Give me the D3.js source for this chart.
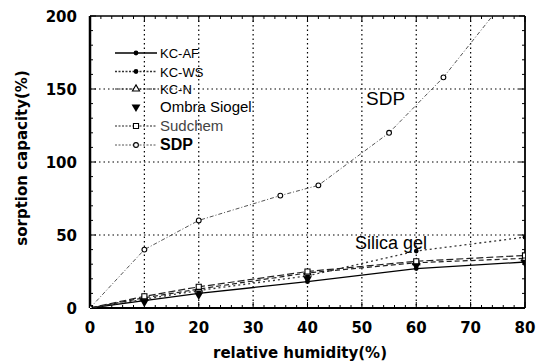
<!DOCTYPE html>
<html>
<head>
<meta charset="utf-8">
<script src="https://cdn.jsdelivr.net/npm/d3@7"></script>
<style>
  body { margin: 0; background: #fff; }
  svg text { font-family: "Liberation Sans", Arial, sans-serif; }
  .bold { font-family: "DejaVu Sans", sans-serif; font-weight: bold; }
</style>
</head>
<body>
<div id="chart"></div>
<script>
// data
const xTicks = [0, 10, 20, 30, 40, 50, 60, 70, 80]
const yTicks = [0, 50, 100, 150, 200]

const kcAF_x = [0, 10, 20, 40, 60, 80]
const kcAF_y = [0, 5, 10, 18, 27, 31.5]
const kcWS_x = [0, 10, 20, 40, 60, 80]
const kcWS_y = [0, 6, 12, 22, 39, 48.5]
const kcN_x = [0, 10, 20, 40, 60, 80]
const kcN_y = [0, 7, 13, 24, 31, 34]
const ombra_x = [10, 20, 40, 60, 80]
const ombra_y = [4, 9, 20, 29, 31]
const sud_x = [0, 10, 20, 40, 60, 80]
const sud_y = [0, 8, 14.5, 25, 32, 36]
const sdp_x = [0, 10, 20, 35, 42, 55, 65, 80]
const sdp_y = [0, 40, 60, 77, 84, 120, 158, 228]

// layout
const W = 545, H = 363
const pLeft = 90, pRight = 525, pTop = 16, pBottom = 308

const svg = d3.select("#chart").append("svg")
    .attr("width", W).attr("height", H)

const x = d3.scaleLinear().domain([0, 80]).range([pLeft, pRight])
const y = d3.scaleLinear().domain([0, 200]).range([pBottom, pTop])

// grid
svg.append("g").selectAll("line").data(xTicks.slice(1, -1)).join("line")
    .attr("x1", d => x(d)).attr("x2", d => x(d))
    .attr("y1", pTop).attr("y2", pBottom)
    .attr("stroke", "#000").attr("stroke-width", 1.2).attr("stroke-dasharray", "1.5,3")
svg.append("g").selectAll("line").data(yTicks.slice(1, -1)).join("line")
    .attr("x1", pLeft).attr("x2", pRight)
    .attr("y1", d => y(d)).attr("y2", d => y(d))
    .attr("stroke", "#000").attr("stroke-width", 1.2).attr("stroke-dasharray", "1.5,3")

// inward ticks on all four sides
const xMinor = d3.range(0, 81, 2)
const yMinor = d3.range(0, 201, 10)
const tk = svg.append("g").attr("stroke", "#000").attr("stroke-width", 1)
xMinor.forEach(v => {
  const len = v % 10 === 0 ? 6 : 3
  tk.append("line").attr("x1", x(v)).attr("x2", x(v)).attr("y1", pBottom).attr("y2", pBottom - len)
  tk.append("line").attr("x1", x(v)).attr("x2", x(v)).attr("y1", pTop).attr("y2", pTop + len)
})
yMinor.forEach(v => {
  const len = v % 50 === 0 ? 6 : 3
  tk.append("line").attr("x1", pLeft).attr("x2", pLeft + len).attr("y1", y(v)).attr("y2", y(v))
  tk.append("line").attr("x1", pRight).attr("x2", pRight - len).attr("y1", y(v)).attr("y2", y(v))
})

// frame
svg.append("line").attr("x1", pLeft).attr("x2", pLeft).attr("y1", pTop).attr("y2", pBottom).attr("stroke", "#000").attr("stroke-width", 2.5)
svg.append("line").attr("x1", pLeft).attr("x2", pRight).attr("y1", pBottom).attr("y2", pBottom).attr("stroke", "#000").attr("stroke-width", 2.2)
svg.append("line").attr("x1", pLeft).attr("x2", pRight).attr("y1", pTop).attr("y2", pTop).attr("stroke", "#000").attr("stroke-width", 1.6)
svg.append("line").attr("x1", pRight).attr("x2", pRight).attr("y1", pTop).attr("y2", pBottom).attr("stroke", "#000").attr("stroke-width", 1.8)

// tick labels
svg.append("g").selectAll("text").data(xTicks).join("text")
    .attr("class", "bold")
    .attr("x", d => x(d)).attr("y", 333)
    .attr("text-anchor", "middle").attr("font-size", 15)
    .text(d => d)
svg.append("g").selectAll("text").data(yTicks).join("text")
    .attr("class", "bold")
    .attr("x", 77).attr("y", d => y(d) + 6)
    .attr("text-anchor", "end").attr("font-size", 15)
    .text(d => d)

// axis titles
svg.append("text").attr("class", "bold").attr("x", 300).attr("y", 358)
    .attr("text-anchor", "middle").attr("font-size", 15)
    .text("relative humidity(%)")
svg.append("text").attr("class", "bold").attr("transform", "translate(27,158) rotate(-90)")
    .attr("text-anchor", "middle").attr("font-size", 15)
    .text("sorption capacity(%)")

// series
svg.append("clipPath").attr("id", "plot").append("rect")
    .attr("x", pLeft).attr("y", pTop).attr("width", pRight - pLeft).attr("height", pBottom - pTop)

const line = d3.line().x(d => x(d[0])).y(d => y(d[1]))
const zip = (a, b) => a.map((v, i) => [v, b[i]])

const series = [
  { name: "KC-AF", pts: zip(kcAF_x, kcAF_y), dash: null, color: "#000", sw: 1.3, marker: "dot" },
  { name: "KC-WS", pts: zip(kcWS_x, kcWS_y), dash: "2,3", color: "#333", sw: 1.3, marker: "dot" },
  { name: "KC-N", pts: zip(kcN_x, kcN_y), dash: "5,3", color: "#222", sw: 1.2, marker: "tri" },
  { name: "Ombra Siogel", pts: zip(ombra_x, ombra_y), dash: null, color: "#000", sw: 0, marker: "down" },
  { name: "Sudchem", pts: zip(sud_x, sud_y), dash: "7,3", color: "#222", sw: 1.2, marker: "sq" },
  { name: "SDP", pts: zip(sdp_x, sdp_y), dash: "4,2,1,2", color: "#555", sw: 1, marker: "circ" }
]

const sym = {
  dot: d3.symbol().type(d3.symbolCircle).size(18),
  tri: d3.symbol().type(d3.symbolTriangle).size(22),
  down: d3.symbol().type(d3.symbolTriangle).size(34),
  sq: d3.symbol().type(d3.symbolSquare).size(26),
  circ: d3.symbol().type(d3.symbolCircle).size(18)
}
function drawMarker(g, kind, cx, cy) {
  const p = g.append("path").attr("d", sym[kind]())
      .attr("transform", "translate(" + cx + "," + cy + ")" + (kind === "down" ? " rotate(180)" : ""))
  if (kind === "dot" || kind === "down") p.attr("fill", "#000")
  else p.attr("fill", "#fff").attr("stroke", "#000").attr("stroke-width", 1.1)
}

const plot = svg.append("g").attr("clip-path", "url(#plot)")
series.forEach(s => {
  if (s.sw > 0) {
    plot.append("path").datum(s.pts).attr("d", line)
        .attr("fill", "none").attr("stroke", s.color).attr("stroke-width", s.sw)
        .attr("stroke-dasharray", s.dash)
  }
})
series.forEach(s => {
  s.pts.forEach(p => drawMarker(plot, s.marker, x(p[0]), y(p[1])))
})

// annotations
svg.append("text").attr("x", 366).attr("y", 105).attr("font-size", 19).text("SDP")
svg.append("text").attr("x", 355).attr("y", 249).attr("font-size", 18).text("Silica gel")

// legend
const legendY = [53, 71.5, 89, 107, 126, 145]
const legendSize = [13, 13, 13, 15, 15, 16]
const lg = svg.append("g")
series.forEach((s, i) => {
  const ly = legendY[i]
  if (s.sw > 0) {
    lg.append("line").attr("x1", 115).attr("x2", 157).attr("y1", ly).attr("y2", ly)
        .attr("stroke", s.color).attr("stroke-width", s.sw).attr("stroke-dasharray", s.dash ? "2,1.5" : null)
  }
  drawMarker(lg, s.marker, 136, ly)
  lg.append("text").attr("x", 160).attr("y", ly + 5)
      .attr("font-size", legendSize[i])
      .attr("font-weight", s.name === "SDP" ? "bold" : null)
      .attr("fill", s.name === "Sudchem" ? "#444" : "#000")
      .text(s.name)
})
</script>
</body>
</html>
